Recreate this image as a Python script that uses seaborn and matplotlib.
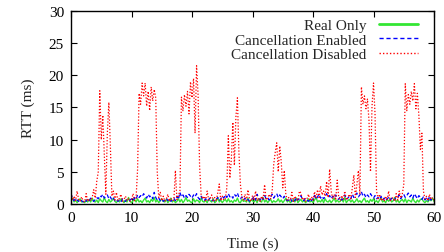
import matplotlib
matplotlib.use("Agg")
import matplotlib.pyplot as plt
import numpy as np
import seaborn as sns

# sample times (s), one sample every 0.25 s
time_s = np.arange(241) * 0.25

# RTT (ms), 4 samples per second
real_only = [
    0.5, 0.9, 0.3, 0.6, 0.2, 0.5, 0.8, 0.3, 0.4, 0.2, 0.6, 0.3, 0.7, 0.3, 0.9, 0.4,
    0.3, 0.6, 0.2, 0.8, 0.5, 0.3, 1.0, 0.4, 0.2, 0.7, 0.3, 0.5, 0.9, 0.4, 0.2, 0.6,
    0.3, 0.8, 0.5, 0.2, 0.6, 0.3, 1.0, 0.4, 0.2, 0.5, 0.7, 0.3, 0.8, 0.3, 0.5, 0.2,
    0.6, 0.9, 0.3, 0.5, 0.2, 0.7, 0.4, 1.0, 0.3, 0.6, 0.2, 0.5, 0.8, 0.4, 0.3, 0.7,
    0.2, 0.5, 0.9, 0.3, 0.6, 0.2, 0.4, 0.8, 0.3, 0.7, 0.2, 0.5, 1.0, 0.4, 0.6, 0.3,
    0.2, 0.8, 0.3, 0.6, 0.5, 0.2, 0.9, 0.4, 0.3, 0.6, 0.2, 0.7, 0.5, 0.3, 0.8, 0.2,
    0.4, 1.0, 0.3, 0.6, 0.2, 0.5, 0.7, 0.3, 0.8, 0.3, 0.5, 0.2, 0.6, 0.4, 0.9, 0.3,
    0.2, 0.7, 0.4, 0.5, 0.3, 0.9, 0.2, 0.6, 0.5, 0.3, 0.7, 0.2, 0.8, 0.4, 0.3, 1.0,
    0.3, 0.6, 0.2, 0.5, 0.7, 0.2, 0.5, 0.3, 0.4, 0.8, 0.3, 0.6, 0.2, 0.5, 0.9, 0.3,
    0.6, 0.2, 0.4, 0.7, 0.3, 0.9, 0.2, 0.5, 0.7, 0.3, 0.6, 0.2, 0.4, 0.8, 0.3, 0.5,
    0.2, 0.6, 1.0, 0.3, 0.5, 0.3, 0.7, 0.2, 0.8, 0.4, 0.3, 0.6, 0.2, 0.5, 0.9, 0.3,
    0.6, 0.3, 0.4, 0.8, 0.3, 1.0, 0.2, 0.5, 0.7, 0.3, 0.6, 0.2, 0.4, 0.8, 0.3, 0.5,
    0.2, 0.6, 0.9, 0.3, 0.5, 0.2, 0.7, 0.4, 0.8, 0.3, 0.5, 0.2, 0.6, 0.9, 0.3, 0.5,
    0.2, 0.7, 0.4, 0.8, 0.3, 0.5, 1.0, 0.3, 0.6, 0.2, 0.5, 0.7, 0.3, 0.8, 0.2, 0.6,
    0.5, 0.3, 0.9, 0.4, 0.2, 0.6, 0.3, 0.7, 0.8, 0.4, 0.2, 0.5, 0.3, 0.7, 0.5, 0.9,
    0.4,
]

cancel_enabled = [
    1.6, 0.8, 0.5, 0.9, 0.6, 0.4, 0.7, 0.5, 0.3, 0.6, 0.4, 0.8, 0.5, 0.9, 0.6, 0.4,
    0.7, 1.0, 0.8, 1.3, 1.1, 1.5, 0.9, 1.2, 1.4, 0.8, 1.1, 0.6, 0.9, 0.5, 0.7, 0.4,
    0.6, 0.3, 0.8, 0.5, 0.4, 0.7, 0.5, 0.6, 0.8, 0.5, 1.0, 0.7, 1.4, 1.0, 1.3, 1.1,
    1.6, 1.2, 0.9, 1.5, 1.1, 1.3, 0.8, 1.8, 1.0, 0.6, 0.9, 0.5, 0.7, 0.4, 0.6, 0.9,
    0.5, 0.8, 0.4, 0.6, 0.9, 0.5, 1.2, 0.7, 1.8, 1.1, 1.4, 0.9, 1.3, 1.0, 1.5, 1.2,
    0.9, 1.4, 1.1, 1.6, 1.0, 0.7, 1.2, 0.6, 0.5, 0.8, 0.4, 0.7, 0.9, 0.5, 0.6, 0.4,
    0.7, 1.0, 0.5, 0.8, 1.2, 0.9, 1.4, 1.0, 1.6, 1.1, 1.3, 0.9, 1.5, 1.2, 1.7, 1.0,
    0.8, 1.1, 0.6, 0.9, 0.5, 0.7, 0.4, 0.6, 0.8, 1.2, 0.6, 1.5, 0.9, 0.6, 1.1, 0.7,
    1.3, 0.8, 1.0, 0.6, 1.1, 1.5, 0.9, 1.3, 1.6, 1.0, 1.4, 1.1, 0.8, 1.2, 0.7, 0.5,
    0.6, 0.9, 0.4, 0.7, 0.5, 1.0, 0.6, 0.8, 1.3, 0.7, 0.5, 0.9, 0.6, 0.4, 0.8, 0.5,
    0.9, 1.3, 0.7, 1.1, 1.5, 0.9, 1.2, 0.8, 1.1, 1.6, 1.0, 1.3, 0.8, 1.2, 0.9, 1.4,
    1.0, 0.7, 1.1, 0.6, 0.8, 1.4, 0.7, 0.9, 1.2, 0.8, 1.5, 1.0, 1.3, 1.7, 1.1, 1.4,
    1.9, 1.2, 1.5, 1.0, 1.4, 1.1, 1.6, 1.2, 0.9, 1.3, 0.8, 1.0, 0.7, 1.2, 0.6, 0.9,
    0.5, 0.8, 1.0, 0.6, 0.9, 0.5, 0.7, 1.1, 1.0, 1.4, 0.8, 1.2, 1.5, 1.0, 1.3, 1.7,
    1.1, 1.4, 0.9, 1.6, 1.2, 0.8, 1.3, 1.0, 0.7, 1.1, 0.6, 0.9, 0.5, 1.2, 0.6, 0.8,
    0.7,
]

cancel_disabled = [
    1.8, 0.6, 1.2, 0.5, 2.0, 0.7, 0.4, 1.1, 0.5, 0.3, 1.6, 0.4, 0.8, 0.5, 1.0, 2.2,
    0.9, 3.5, 5.0, 17.6, 10.0, 13.8, 7.5, 1.5, 11.0, 15.8, 9.0, 1.2, 2.0, 0.6, 1.8, 0.5,
    0.9, 1.5, 0.4, 0.7, 1.2, 0.5, 0.8, 0.4, 0.6, 1.6, 0.5, 0.9, 5.4, 17.2, 15.5, 18.8,
    16.8, 18.8, 15.2, 17.5, 14.5, 18.2, 16.0, 17.8, 16.5, 5.0, 1.0, 1.8, 0.5, 1.2, 0.4, 0.8,
    1.5, 0.4, 0.9, 0.5, 0.6, 5.2, 0.7, 1.3, 2.0, 16.6, 14.5, 17.0, 15.2, 17.5, 14.0, 19.0,
    16.5, 19.5, 11.0, 21.5, 17.0, 5.9, 1.5, 0.8, 1.2, 0.5, 2.0, 0.6, 0.9, 1.4, 0.5, 1.0,
    0.4, 1.8, 3.1, 0.5, 1.2, 0.6, 0.9, 2.5, 10.6, 4.0, 7.0, 12.7, 6.0, 13.5, 16.5, 8.0,
    3.0, 1.0, 0.6, 1.5, 0.5, 2.2, 0.8, 0.4, 1.3, 0.6, 2.0, 0.5, 0.9, 0.4, 1.2, 0.7,
    3.0, 0.6, 0.9, 1.5, 0.8, 2.0, 6.1, 8.0, 9.5, 5.0, 9.0, 6.5, 2.5, 5.2, 1.5, 0.6,
    1.0, 0.5, 1.8, 0.4, 1.2, 0.7, 0.5, 2.0, 1.7, 0.6, 1.0, 0.4, 0.8, 1.5, 0.5, 1.1,
    0.6, 1.9, 0.9, 2.2, 1.0, 2.8, 1.4, 2.0, 1.2, 3.5, 1.0, 5.4, 2.0, 0.8, 1.5, 0.6,
    3.7, 1.0, 0.5, 1.3, 0.7, 2.0, 0.6, 1.0, 1.5, 0.8, 2.5, 4.5, 1.0, 3.0, 5.2, 1.5,
    18.2, 15.5, 16.8, 14.8, 16.3, 13.0, 5.0, 15.2, 18.8, 14.0, 2.0, 0.8, 1.5, 0.5, 0.9, 0.4,
    1.2, 0.6, 2.0, 0.5, 0.8, 1.0, 0.4, 1.6, 0.6, 2.0, 0.9, 1.5, 3.0, 18.7, 14.5, 17.0,
    15.5, 17.5, 16.0, 18.7, 14.8, 17.2, 13.7, 8.5, 11.0, 2.0, 0.8, 1.2, 0.5, 1.5, 0.7, 1.0,
    0.6,
]

sns.set_style("ticks")
plt.rcParams["font.family"] = ["Liberation Serif", "DejaVu Serif"]
plt.rcParams["font.size"] = 11

fig = plt.figure(figsize=(4.44, 2.53), dpi=100)
ax = fig.add_axes([0.16, 0.19, 0.8175, 0.7625])

sns.lineplot(x=time_s, y=real_only, ax=ax, color="#33e633", linewidth=1.0,
             linestyle="-", label="Real Only")
sns.lineplot(x=time_s, y=cancel_enabled, ax=ax, color="#0000ff", linewidth=0.9,
             linestyle=(0, (3, 2)), label="Cancellation Enabled")
sns.lineplot(x=time_s, y=cancel_disabled, ax=ax, color="#ff0000", linewidth=0.9,
             linestyle=(0, (1, 1.5)), label="Cancellation Disabled")

ax.set(xlim=(0, 60), ylim=(0, 30))
ax.set_xlabel("Time (s)", labelpad=9)
ax.set_ylabel("RTT (ms)", labelpad=10)
ax.set_xticks(range(0, 61, 10))
ax.set_yticks(range(0, 31, 5))
ax.tick_params(direction="in", top=True, right=True, length=4, width=0.8,
               labelsize=11, colors="black", pad=5)
for side in ax.spines.values():
    side.set_linewidth(1.0)
    side.set_color("black")

leg = ax.legend(loc="upper right", frameon=False, markerfirst=False,
                handlelength=2.6, borderaxespad=0.2, borderpad=0.3,
                labelspacing=0.05, handletextpad=0.8, fontsize=11)
leg.set_bbox_to_anchor((0.978, 1.0), transform=ax.transAxes)
for line in leg.get_lines():
    line.set_linewidth(1.0)
leg.get_lines()[0].set_linewidth(2.0)

fig.savefig("out.png", dpi=100)
